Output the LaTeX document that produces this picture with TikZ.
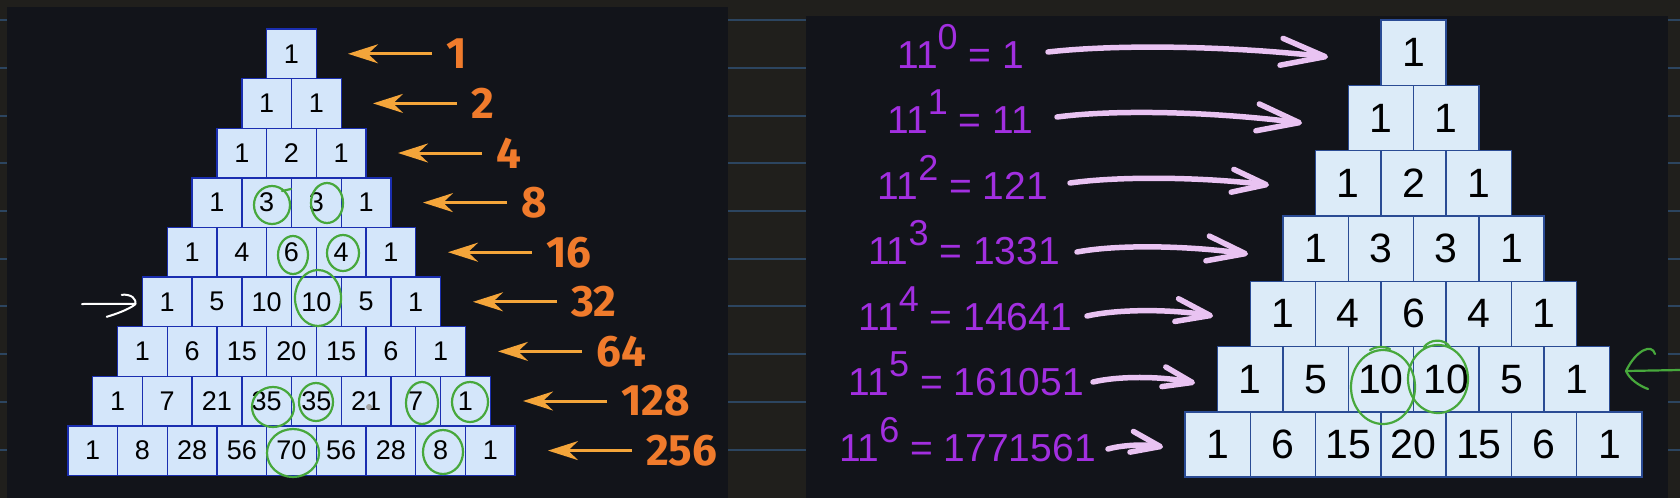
\documentclass[tikz,border=0pt]{standalone}
\usepackage{fontspec}
\setmainfont{Liberation Sans}
\newfontfamily\orfont{Fira Sans}
\usetikzlibrary{arrows.meta,calc}
\definecolor{bgdark}{HTML}{201F1C}
\definecolor{panel}{HTML}{12141A}
\definecolor{noteline}{HTML}{2C4560}
\definecolor{cellfillL}{HTML}{D4E6FA}
\definecolor{cellbordL}{HTML}{1A2EB0}
\definecolor{cellfillR}{HTML}{DCEBF8}
\definecolor{cellbordR}{HTML}{2A4B94}
\definecolor{orangetxt}{HTML}{F07B2C}
\definecolor{orangearr}{HTML}{F4A53A}
\definecolor{purpletxt}{HTML}{A22FE0}
\definecolor{pinkarr}{HTML}{E9C3F2}
\definecolor{greenink}{HTML}{47A83C}
\begin{document}
\begin{tikzpicture}[x=1pt,y=-1pt,
 cellL/.style={draw=cellbordL, fill=cellfillL, line width=1.4pt, minimum width=49.7pt, minimum height=49.6pt, inner sep=0pt, text=black, font=\fontsize{27}{27}\selectfont},
 cellR/.style={draw=cellbordR, fill=cellfillR, line width=1.4pt, minimum width=65.3pt, minimum height=65.3pt, inner sep=0pt, text=black, font=\fontsize{41}{41}\selectfont},
 olab/.style={text=orangetxt, inner sep=0pt, anchor=west, font=\orfont\bfseries\fontsize{44}{44}\selectfont},
 oarr/.style={draw=orangearr, line width=3pt, -{Stealth[length=30pt,width=19pt,inset=10pt]}},
 plab/.style={text=purpletxt, inner sep=0pt, anchor=base west, font=\fontsize{39}{39}\selectfont},
 parr/.style={draw=pinkarr, line width=5.5pt, line cap=round},
 gink/.style={draw=greenink, line width=2.2pt, line cap=round, line join=round},
 wink/.style={draw=white, line width=2pt, line cap=round, line join=round}]
\useasboundingbox (0,0) rectangle (1680,498);
% background
\fill[bgdark] (0,0) rectangle (1680,498);
\foreach \yy in {20,68,116,163,211,259,306,354,402,450}
  \draw[noteline, line width=2pt] (0,\yy) -- (1680,\yy);
\fill[panel] (7,7) rectangle (728,498);
\fill[panel] (806,16) rectangle (1668,498);

% left pyramid
\foreach \row [count=\rr from 0] in {{1},{1,1},{1,2,1},{1,3,3,1},{1,4,6,4,1},{1,5,10,10,5,1},{1,6,15,20,15,6,1},{1,7,21,35,35,21,7,1},{1,8,28,56,70,56,28,8,1}}{
  \foreach \v [count=\kk from 0] in \row {
    \node[cellL] (L-\rr-\kk) at ({291.5+(\kk-\rr/2)*49.7},{29+49.6*(\rr+0.5)}) {\v};
  }
}

% orange labels and arrows
\foreach \val [count=\rr from 0] in {1,2,4,8,16,32,64,128,256}{
  \pgfmathsetmacro\yy{29+49.6*(\rr+0.5)}
  \node[olab] (o\rr) at ({446+25*\rr},\yy) {\val};
  \coordinate (ot\rr) at ({348+25*\rr},\yy);
  \draw[oarr] ([xshift=-14pt]o\rr.west) -- (ot\rr);
}

% white hand-drawn arrow
\coordinate (wa) at (82,304);
\draw[wink] (wa) -- ([shift={(-6,2)}]L-5-0.west);
\draw[wink] ([shift={(-20,-7)}]L-5-0.west) .. controls ([shift={(-11,-8)}]L-5-0.west) and ([shift={(-4,-3)}]L-5-0.west) .. ([shift={(-7,3)}]L-5-0.west)
  .. controls ([shift={(-14,8)}]L-5-0.west) and ([shift={(-25,12)}]L-5-0.west) .. ([shift={(-35,15)}]L-5-0.west);

% green circles, left
\draw[gink] (272,205) ellipse [x radius=18pt, y radius=19pt];
\draw[gink] (282,191) -- (291,189);
\draw[gink] (327,203) ellipse [x radius=16pt, y radius=20pt];
\draw[gink] (293,255) ellipse [x radius=15pt, y radius=19pt];
\draw[gink] (343,253) ellipse [x radius=16pt, y radius=18pt];
\draw[gink] (318,298) ellipse [x radius=23pt, y radius=28pt];
\draw[gink] (273,407) ellipse [x radius=21pt, y radius=20pt];
\draw[gink] (316,402) ellipse [x radius=17pt, y radius=19pt];
\draw[gink] (422,403) ellipse [x radius=16pt, y radius=21pt];
\draw[gink] (470,402) ellipse [x radius=18pt, y radius=20pt];
\draw[gink] (293,453) ellipse [x radius=26pt, y radius=24pt];
\draw[gink] (443,452) ellipse [x radius=20pt, y radius=22pt];
\fill[gray!70] (369,407) circle [radius=3pt];

% right pyramid
\foreach \row [count=\rr from 0] in {{1},{1,1},{1,2,1},{1,3,3,1},{1,4,6,4,1},{1,5,10,10,5,1},{1,6,15,20,15,6,1}}{
  \foreach \v [count=\kk from 0] in \row {
    \node[cellR] (R-\rr-\kk) at ({1413.5+(\kk-\rr/2)*65.3},{20+65.3*(\rr+0.5)}) {\v};
  }
}

% purple labels
\foreach \val [count=\rr from 0] in {1,11,121,1331,14641,161051,1771561}{
  \node[plab] (p\rr) at ({897-9.7*\rr},{68+65.5*\rr}) {11\raisebox{19pt}{\fontsize{36}{36}\selectfont\rr} = \val};
}

% pink arrows
\coordinate (s0) at (1048,52);  \coordinate (e0) at (1328,57);
\coordinate (s1) at (1057,117); \coordinate (e1) at (1302,123);
\coordinate (s2) at (1070,183); \coordinate (e2) at (1269,185);
\coordinate (s3) at (1077,252); \coordinate (e3) at (1248,254);
\coordinate (s4) at (1087,316); \coordinate (e4) at (1213,316);
\coordinate (s5) at (1093,382); \coordinate (e5) at (1195,383);
\coordinate (s6) at (1108,449); \coordinate (e6) at (1163,447);
\draw[parr, -{Straight Barb[length=44pt,width=27pt,round]}] (s0) .. controls (1118,44) and (1230,46) .. (e0);
\draw[parr, -{Straight Barb[length=42pt,width=27pt,round]}] (s1) .. controls (1118,109) and (1215,112) .. (e1);
\draw[parr, -{Straight Barb[length=34pt,width=23pt,round]}] (s2) .. controls (1120,176) and (1200,177) .. (e2);
\draw[parr, -{Straight Barb[length=38pt,width=25pt,round]}] (s3) .. controls (1120,244) and (1190,246) .. (e3);
\draw[parr, -{Straight Barb[length=34pt,width=23pt,round]}] (s4) .. controls (1118,309) and (1170,309) .. (e4);
\draw[parr, -{Straight Barb[length=29pt,width=20pt,round]}] (s5) .. controls (1118,376) and (1160,376) .. (e5);
\draw[parr, -{Straight Barb[length=29pt,width=21pt,round]}] (s6) .. controls (1122,445) and (1145,444) .. (e6);

% green circles, right
\draw[gink] (1383,387) ellipse [x radius=32pt, y radius=37pt];
\draw[gink] (1438,379) ellipse [x radius=30pt, y radius=34pt];
\draw[gink] (1424,347) .. controls (1430,339) and (1444,338) .. (1450,347);
\draw[gink] (1370,350) .. controls (1376,346) and (1384,346) .. (1390,349);

% green arrow, right edge
\coordinate (gt) at (1626,371);
\coordinate (ge) at (1680,370);
\draw[gink] (ge) -- (gt);
\draw[gink] (1655,354) .. controls (1652,343) and (1636,350) .. (gt) .. controls (1630,380) and (1640,386) .. (1648,389);
\end{tikzpicture}
\end{document}
